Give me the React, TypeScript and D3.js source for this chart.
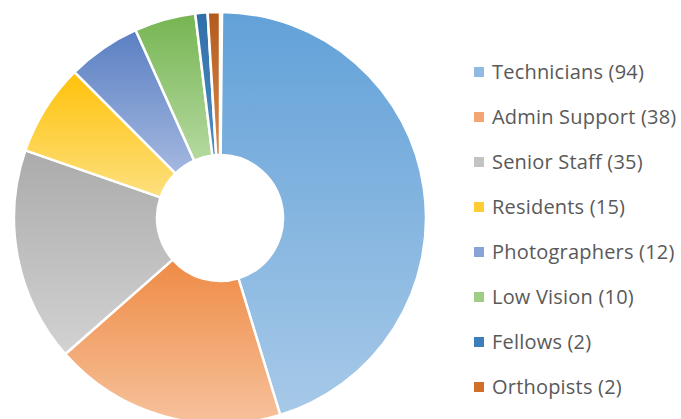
import React, { useEffect, useRef } from "react";
import * as d3 from "d3";

const categories = ["Technicians", "Admin Support", "Senior Staff", "Residents", "Photographers", "Low Vision", "Fellows", "Orthopists"];
const values = [94, 38, 35, 15, 12, 10, 2, 2];
const topColors = ["#62a1d8", "#ef8b45", "#ababab", "#ffc20a", "#5a7fc2", "#76b552", "#2f6fa8", "#b35a1c"];
const bottomColors = ["#a7c9e8", "#f6c29c", "#d2d2d2", "#fde07e", "#a4b8e0", "#b5d9a0", "#4f8bc4", "#d7894e"];
const legendColors = ["#8fbbe3", "#f4a672", "#c3c3c3", "#ffcc33", "#8aa3d6", "#9fcd84", "#3e7fbb", "#d06f2a"];

const W = 681;
const H = 419;

export default function App() {
  const ref = useRef<SVGSVGElement>(null);

  useEffect(() => {
    const svg = d3.select(ref.current);
    svg.selectAll("*").remove();

    const cx = 220, cy = 218, R = 206, r0 = 63;

    const defs = svg.append("defs");
    categories.forEach((c, i) => {
      const g = defs.append("linearGradient")
        .attr("id", "grad" + i)
        .attr("x1", 0).attr("y1", 0).attr("x2", 0).attr("y2", 1);
      g.append("stop").attr("offset", "0%").attr("stop-color", topColors[i]);
      g.append("stop").attr("offset", "100%").attr("stop-color", bottomColors[i]);
    });

    const pie = d3.pie<number>().sort(null).value((d) => d).startAngle(0.01);
    const arcs = pie(values);
    const arc = d3.arc<d3.PieArcDatum<number>>().innerRadius(r0).outerRadius(R);

    const g = svg.append("g").attr("transform", `translate(${cx},${cy})`);
    g.selectAll("path")
      .data(arcs)
      .join("path")
      .attr("d", arc as any)
      .attr("fill", (_d, i) => `url(#grad${i})`)
      .attr("stroke", "#ffffff")
      .attr("stroke-width", 2.5)
      .attr("stroke-linejoin", "round");

    const legend = svg.append("g");
    const y0 = 72, step = 45;
    categories.forEach((c, i) => {
      const y = y0 + i * step;
      legend.append("rect")
        .attr("x", 474).attr("y", y - 5).attr("width", 10).attr("height", 10)
        .attr("fill", legendColors[i]);
      legend.append("text")
        .attr("x", 492).attr("y", y)
        .attr("dy", "0.36em")
        .attr("font-family", "'Open Sans', sans-serif")
        .attr("font-size", 20)
        .attr("letter-spacing", 0.2)
        .attr("fill", "#595959")
        .text(`${c} (${values[i]})`);
    });
  }, []);

  return (
    <svg
      ref={ref}
      width={W}
      height={H}
      style={{ position: "absolute", left: 0, top: 0, background: "#ffffff" }}
    />
  );
}
